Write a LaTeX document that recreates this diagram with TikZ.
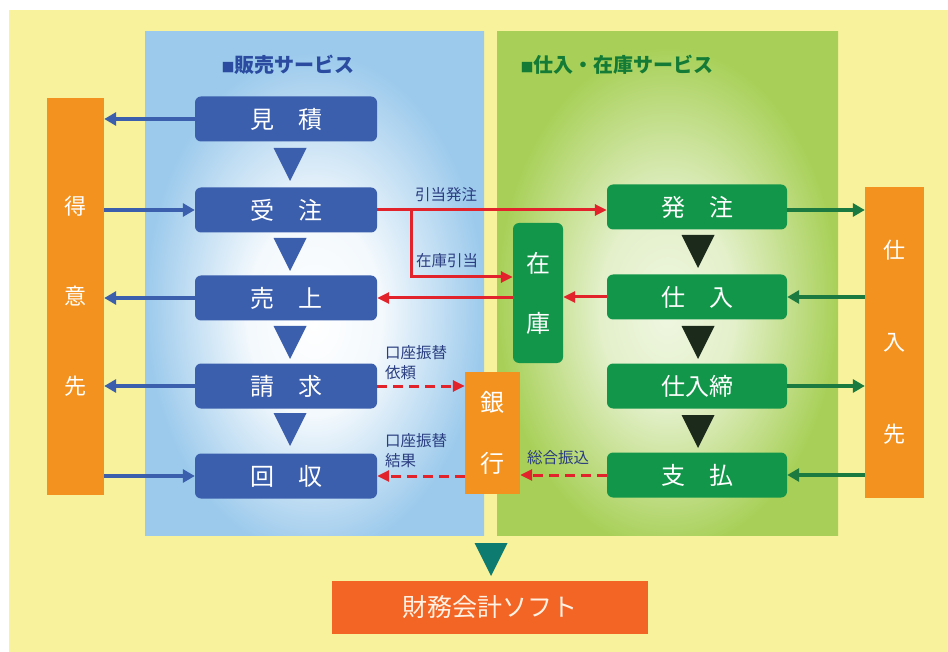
\documentclass[tikz,border=0pt]{standalone}
\usepackage{fontspec}
\setmainfont{Noto Sans CJK JP}
\usetikzlibrary{arrows.meta,calc}
\definecolor{bgyellow}{HTML}{F7F29B}
\definecolor{pblue}{HTML}{9CCAEC}
\definecolor{pgreen}{HTML}{A8D058}
\definecolor{bboxc}{HTML}{3B5EAD}
\definecolor{gboxc}{HTML}{12964A}
\definecolor{orng}{HTML}{F3921F}
\definecolor{finc}{HTML}{F26525}
\definecolor{redc}{HTML}{E3232B}
\definecolor{garr}{HTML}{1A7A40}
\definecolor{tealc}{HTML}{0E7B70}
\definecolor{darktri}{HTML}{1B2A1B}
\definecolor{lblc}{HTML}{2A3D80}
\definecolor{btitle}{HTML}{2A4BA0}
\definecolor{gtitle}{HTML}{137B36}
\pgfdeclareradialshading{blueglow}{\pgfpoint{0bp}{-4bp}}{color(0bp)=(white); color(10bp)=(white!88!pblue); color(25bp)=(pblue); color(50bp)=(pblue)}
\pgfdeclareradialshading{greenglow}{\pgfpoint{0bp}{-3bp}}{color(0bp)=(white!82!pgreen); color(10bp)=(white!68!pgreen); color(25bp)=(pgreen); color(50bp)=(pgreen)}
\newcommand\dtri[3]{\fill[#1] ({#2-16.5},#3) -- ({#2+16.5},#3) -- (#2,{#3+33}) -- cycle;}
\newcommand\sqmark{{\fontsize{13}{13}\selectfont ■}}
\begin{document}
\begin{tikzpicture}[x=1pt,y=-1pt,
  bproc/.style={fill=bboxc, rounded corners=6pt, minimum width=182pt, minimum height=45pt, inner sep=0pt, text=white, font=\fontsize{24}{24}\selectfont},
  gproc/.style={fill=gboxc, rounded corners=6pt, minimum width=180pt, minimum height=45pt, inner sep=0pt, text=white, font=\fontsize{24}{24}\selectfont},
  tallbox/.style={fill=orng, inner sep=0pt, text=white, align=center},
  barr/.style={draw=bboxc, line width=4pt, -{Triangle[length=12pt,width=13pt]}},
  garrow/.style={draw=garr, line width=4pt, -{Triangle[length=12pt,width=13pt]}},
  rarr/.style={draw=redc, line width=3pt, -{Triangle[length=12pt,width=11pt]}},
  rdash/.style={rarr, dash pattern=on 10pt off 6pt},
  lbl/.style={text=lblc, font=\fontsize{15.5}{20}\selectfont, inner sep=0pt},
  title/.style={font=\bfseries\fontsize{20}{20}\selectfont, inner sep=0pt}]
\useasboundingbox (0,0) rectangle (948,652);
\fill[white] (0,0) rectangle (948,652);
\fill[bgyellow] (9,10) rectangle (948,652);
% panels
\shade[shading=blueglow] (145,32) rectangle (484,535);
\shade[shading=greenglow] (497,32) rectangle (838,535);
\node[title, text=btitle] (t1) at (288,65) {\sqmark 販売サービス};
\node[title, text=gtitle] (t2) at (617,65) {\sqmark 仕入・在庫サービス};
% sales boxes
\node[bproc] (mitsu) at (286,119) {見\hspace{24pt}積};
\node[bproc] (jutyu) at (286,210) {受\hspace{24pt}注};
\node[bproc] (uri) at (286,298) {売\hspace{24pt}上};
\node[bproc] (seikyu) at (286,386) {請\hspace{24pt}求};
\node[bproc] (kaishu) at (286,476) {回\hspace{24pt}収};
% purchase boxes
\node[gproc] (hattyu) at (697,207) {発\hspace{24pt}注};
\node[gproc] (shiire) at (697,297) {仕\hspace{24pt}入};
\node[gproc] (shime) at (697,386) {仕入締};
\node[gproc] (shiharai) at (697,475) {支\hspace{24pt}払};
% side boxes
\node[tallbox, minimum width=57pt, minimum height=397pt, font=\fontsize{22}{90}\selectfont] (tokui) at (75.5,296.5) {得\\意\\先};
\node[tallbox, minimum width=59pt, minimum height=311pt, font=\fontsize{22}{92}\selectfont] (shiiresaki) at (894.5,342.5) {仕\\入\\先};
\node[fill=gboxc, rounded corners=6pt, minimum width=50pt, minimum height=140pt, inner sep=0pt, text=white, align=center, font=\fontsize{24}{60}\selectfont] (zaiko) at (538,293) {在\\庫};
\node[tallbox, minimum width=55pt, minimum height=122pt, font=\fontsize{24}{61}\selectfont] (ginko) at (492.5,433) {銀\\行};
\node[fill=finc, minimum width=316pt, minimum height=53pt, inner sep=0pt, text=white!90!orange, font=\fontsize{25}{25}\selectfont] (fin) at (490,607.5) {財務会計ソフト};
% triangles
\dtri{bboxc}{290}{148}
\dtri{bboxc}{290}{238}
\dtri{bboxc}{290}{326}
\dtri{bboxc}{290}{413}
\dtri{darktri}{698}{235}
\dtri{darktri}{698}{326}
\dtri{darktri}{698}{415}
\dtri{tealc}{491}{543}
% customer arrows
\draw[barr] (mitsu.west) -- (mitsu.west -| tokui.east);
\draw[barr] (jutyu.west -| tokui.east) -- (jutyu.west);
\draw[barr] (uri.west) -- (uri.west -| tokui.east);
\draw[barr] (seikyu.west) -- (seikyu.west -| tokui.east);
\draw[barr] (kaishu.west -| tokui.east) -- (kaishu.west);
% supplier arrows
\draw[garrow] (hattyu.east |- jutyu.east) -- (jutyu.east -| shiiresaki.west);
\draw[garrow] (shiire.east -| shiiresaki.west) -- (shiire.east);
\draw[garrow] (shime.east) -- (shime.east -| shiiresaki.west);
\draw[garrow] (shiharai.east -| shiiresaki.west) -- (shiharai.east);
% red flows
\coordinate (br) at ($(jutyu.east)+(34,0)$);
\draw[rarr] (jutyu.east) -- (jutyu.east -| hattyu.west);
\draw[rarr] (br) |- ([yshift=16pt]zaiko.west);
\draw[rarr] (zaiko.west |- uri.east) -- (uri.east);
\draw[rarr] (shiire.west) -- (shiire.west -| zaiko.east);
\draw[rdash] (seikyu.east) -- (seikyu.east -| ginko.west);
\draw[rdash] (ginko.west |- kaishu.east) -- (kaishu.east);
\draw[rdash] (shiharai.west) -- (shiharai.west -| ginko.east);
% labels
\node[lbl] (l1) at (446,195) {引当発注};
\node[lbl] (l2) at (447,261) {在庫引当};
\node[lbl, anchor=west, align=left] (l3) at (385,363) {口座振替\\依頼};
\node[lbl, anchor=west, align=left] (l4) at (385,450.5) {口座振替\\結果};
\node[lbl] (l5) at (558,458) {総合振込};
\end{tikzpicture}
\end{document}
